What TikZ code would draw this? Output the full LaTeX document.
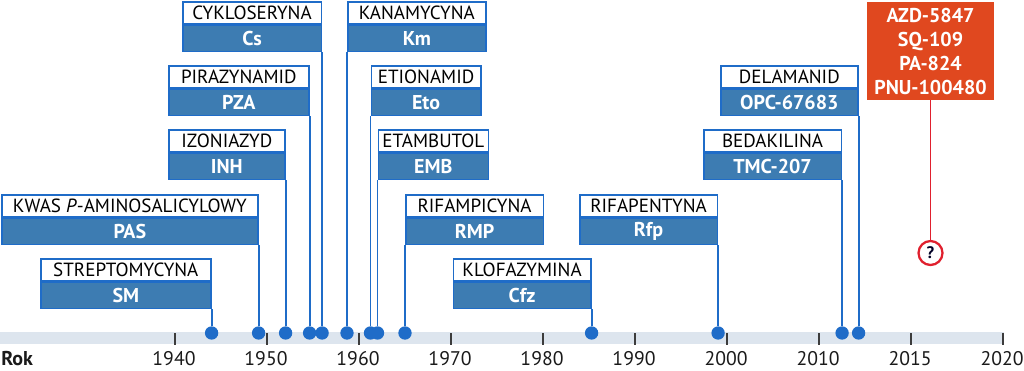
\documentclass[tikz,border=0pt]{standalone}
\usepackage{fontspec}
\setmainfont{PT Sans}
\usetikzlibrary{positioning}
\definecolor{boxcolor}{HTML}{3D7CB2}
\definecolor{edgecolor}{HTML}{1F6CC8}
\definecolor{bandcolor}{HTML}{DDE5EE}
\definecolor{newcolor}{HTML}{E0481F}
\definecolor{askcolor}{HTML}{E0202E}
\definecolor{inkcolor}{HTML}{1A1A1A}
\tikzset{
  drug name/.style={draw=edgecolor,line width=1.2pt,fill=white,anchor=north west,
    inner sep=0pt,minimum height=16.5pt,font=\fontsize{14.3}{15}\selectfont},
  drug abbr/.style={draw=edgecolor,line width=1.2pt,fill=boxcolor,text=white,anchor=north,
    inner sep=0pt,minimum height=19.5pt,font=\bfseries\fontsize{15}{16}\selectfont},
  drug dot/.style={circle,fill=edgecolor,inner sep=0pt,minimum size=10pt},
  drug link/.style={edgecolor,line width=1.4pt},
  year tick/.style={draw=inkcolor!85,line width=1pt},
  year label/.style={text=inkcolor,inner sep=0pt,font=\fontsize{14.8}{16}\selectfont},
  new box/.style={fill=newcolor,text=white,align=center,inner sep=0pt,
    minimum width=95.25pt,minimum height=73.5pt,font=\bfseries\fontsize{15}{18}\selectfont},
  ask mark/.style={circle,draw=askcolor,line width=1.7pt,fill=white,inner sep=0pt,
    minimum size=18pt,text=black!85!blue,font=\bfseries\fontsize{12.5}{13}\selectfont},
  ask link/.style={askcolor,line width=1.2pt}
}
\newcommand{\drug}[7]{%
  \node[drug name,minimum width={(#3-#2)*0.75pt}] (#1) at (#2,#4) {#5};
  \node[drug abbr,minimum width={(#3-#2)*0.75pt}] (#1 abbr) at (#1.south) {#6};
  \node[drug dot] (#1 dot) at (#1 abbr.south #7 |- axis) {};
  \draw[drug link] (#1 abbr.south #7) -- (#1 dot);
}

\begin{document}
\begin{tikzpicture}[x=0.75pt,y=-0.75pt]
  \useasboundingbox (0,0) rectangle (1024,371);
  \coordinate (axis) at (0,333);
  \fill[bandcolor] (0,332) rectangle (1004,344);
  \node[year label,font=\bfseries\fontsize{15}{16}\selectfont,anchor=west] (rok) at (1,359) {Rok};
  \foreach \i/\yr in {0/1940,1/1950,2/1960,3/1970,4/1980,5/1990,6/2000,7/2010,8/2015,9/2020}{
    \draw[year tick] ({175+92*\i},333) -- ({175+92*\i},345);
    \node[year label] (y\yr) at ({174+92*\i},359) {\yr};
  }
  \drug{sm}{40}{210}{258}{STREPTOMYCYNA}{SM}{east}
  \drug{pas}{1}{257}{194}{KWAS \textit{P}-AMINOSALICYLOWY}{PAS}{east}
  \drug{inh}{168}{284}{129}{IZONIAZYD}{INH}{east}
  \drug{pza}{168}{308}{65}{PIRAZYNAMID}{PZA}{east}
  \drug{cs}{182}{320.5}{1}{CYKLOSERYNA}{Cs}{east}
  \drug{km}{347}{485}{1}{KANAMYCYNA}{Km}{west}
  \drug{eto}{370.5}{480}{65}{ETIONAMID}{Eto}{west}
  \drug{emb}{377.5}{487.5}{129}{ETAMBUTOL}{EMB}{west}
  \drug{rmp}{405}{542.5}{194}{RIFAMPICYNA}{RMP}{west}
  \drug{cfz}{452.5}{590}{258}{KLOFAZYMINA}{Cfz}{east}
  \drug{rfp}{579}{716.5}{194}{RIFAPENTYNA}{Rfp}{east}
  \drug{tmc}{703}{840.5}{129}{BEDAKILINA}{TMC-207}{east}
  \drug{opc}{720}{857}{65}{DELAMANID}{OPC-67683}{east}
  \node[new box] (new) at (930.5,51) {AZD-5847\\SQ-109\\PA-824\\PNU-100480};
  \node[ask mark] (ask) at (930.5,253) {?};
  \draw[ask link] (new.south) -- (ask.north);
\end{tikzpicture}
\end{document}
